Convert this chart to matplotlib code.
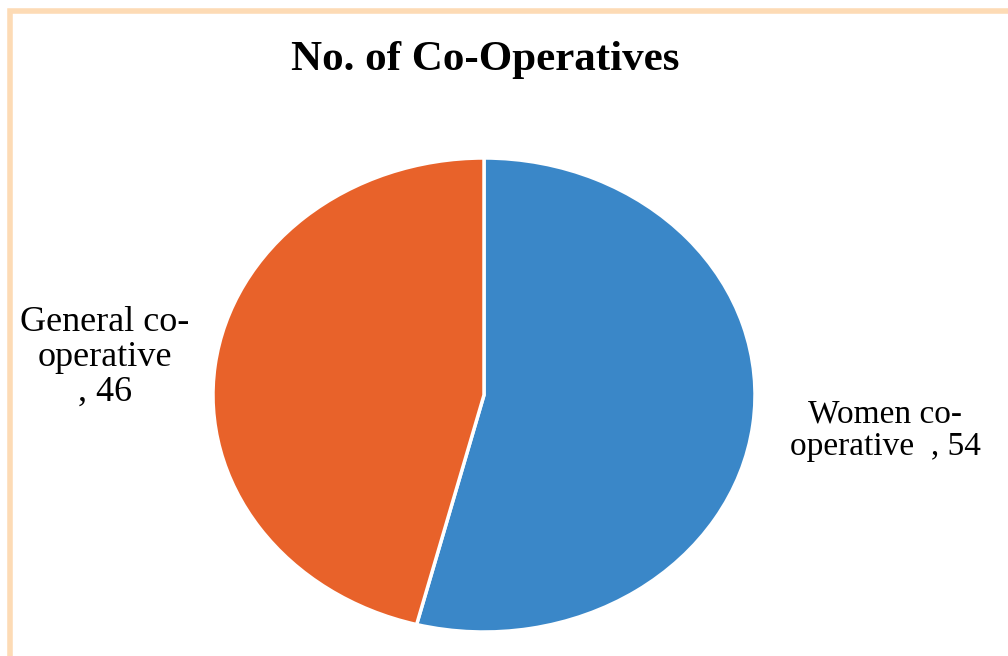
import matplotlib
matplotlib.use("Agg")
import matplotlib.pyplot as plt
from matplotlib.patches import Rectangle

# data
categories = ["Women co-operative", "General co-operative"]
values = [54, 46]
colors = ["#3A87C8", "#E8622A"]
label_text = ["Women co-\noperative  , 54", "General co-\noperative\n, 46"]

plt.rcParams['font.family'] = ['Liberation Serif', 'DejaVu Serif']

fig = plt.figure(figsize=(10.08, 6.56), dpi=100)

# peach frame (top and left edges visible)
fig.patches.append(Rectangle((10 / 1008, -0.1), 1.2, (656 - 11) / 656 + 0.1,
                             transform=fig.transFigure, fill=False,
                             edgecolor="#FDDBB5", linewidth=4))

fig.text(485 / 1008, 1 - 60 / 656, "No. of Co-Operatives", ha="center", va="center",
         fontsize=31, fontweight="bold")

ax = fig.add_axes([213 / 1008, 24 / 656, 542 / 1008, 474 / 656])
wedges, _ = ax.pie(values, colors=colors, startangle=90, counterclock=False,
                   wedgeprops=dict(edgecolor="white", linewidth=2.5))
ax.set_aspect("auto")
ax.set_xlim(-1, 1)
ax.set_ylim(-1, 1)

# data labels outside the slices
ax.text(1.48, -0.15, label_text[0], ha="center", va="center", fontsize=24,
        multialignment="center", clip_on=False, linespacing=1.12)
ax.text(-1.40, 0.16, label_text[1], ha="center", va="center", fontsize=26,
        multialignment="center", clip_on=False, linespacing=1.08)

fig.savefig("out.png", dpi=100)
